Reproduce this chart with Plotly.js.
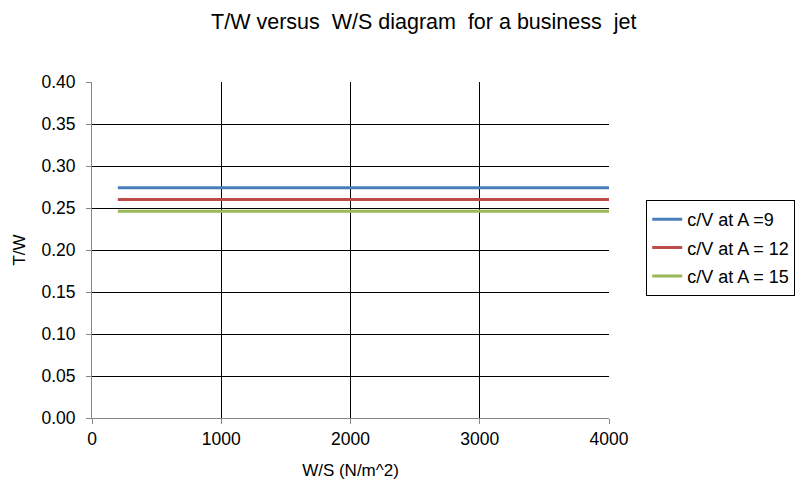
<!DOCTYPE html>
<html>
<head>
<meta charset="utf-8">
<script src="https://cdn.plot.ly/plotly-3.0.1.min.js"></script>
<style>
  html, body { margin: 0; padding: 0; background: #fff; }
  #chart { width: 798px; height: 483px; }
</style>
</head>
<body>
<div id="chart"></div>
<script>
// Wing loading range (N/m^2)
const wingLoading = [200, 4000];

// Thrust-to-weight required for cruise, per aspect ratio
const seriesNames = ["c/V at A =9", "c/V at A = 12", "c/V at A = 15"];
const twA9  = [0.274, 0.274];
const twA12 = [0.260, 0.260];
const twA15 = [0.246, 0.246];
const seriesColors = ["#4A7EBB", "#BE4B48", "#98B954"];

const yTickVals = [0, 0.05, 0.10, 0.15, 0.20, 0.25, 0.30, 0.35, 0.40];
const yTickText = ["0.00", "0.05", "0.10", "0.15", "0.20", "0.25", "0.30", "0.35", "0.40"];
const xTickVals = [0, 1000, 2000, 3000, 4000];

const ys = [twA9, twA12, twA15];
const traces = ys.map((y, i) => ({
  x: wingLoading,
  y: y,
  type: "scatter",
  mode: "lines",
  name: seriesNames[i],
  legendgroup: "g" + i,
  line: { color: seriesColors[i], width: 3 }
}));

const font = "Liberation Sans, Arial, sans-serif";

const layout = {
  width: 798,
  height: 483,
  paper_bgcolor: "#ffffff",
  plot_bgcolor: "#ffffff",
  margin: { l: 92, r: 189, t: 82, b: 65, autoexpand: false },
  font: { family: font, color: "#000000", size: 17 },
  title: {
    text: "T/W versus  W/S diagram  for a business  jet",
    font: { family: font, size: 21.5, color: "#000000" },
    x: 0.531, xanchor: "center",
    y: 0.955, yanchor: "middle"
  },
  xaxis: {
    range: [0, 4000],
    tickvals: xTickVals,
    ticks: "outside",
    ticklen: 5,
    tickcolor: "#868686",
    showgrid: true,
    gridcolor: "#000000",
    gridwidth: 1,
    zeroline: false,
    showline: true,
    linecolor: "#868686",
    linewidth: 1,
    tickfont: { family: font, size: 17.5, color: "#000000" },
    title: { text: "W/S (N/m^2)", font: { family: font, size: 17, color: "#000000" }, standoff: 16 },
    automargin: false,
    fixedrange: true
  },
  yaxis: {
    range: [0, 0.40],
    tickvals: yTickVals,
    ticktext: yTickText,
    ticks: "outside",
    ticklen: 5,
    tickcolor: "#868686",
    ticklabelstandoff: 7,
    showgrid: true,
    gridcolor: "#000000",
    gridwidth: 1,
    zeroline: false,
    showline: true,
    linecolor: "#868686",
    linewidth: 1,
    tickfont: { family: font, size: 17.5, color: "#000000" },
    title: { text: "T/W", font: { family: font, size: 17, color: "#000000" }, standoff: 11 },
    automargin: false,
    fixedrange: true
  },
  showlegend: true,
  legend: {
    x: 1.072, xanchor: "left",
    y: 0.506, yanchor: "middle",
    bordercolor: "#000000",
    borderwidth: 1,
    bgcolor: "#ffffff",
    traceorder: "grouped",
    tracegroupgap: 2,
    font: { family: font, size: 18, color: "#000000" }
  }
};

Plotly.newPlot("chart", traces, layout, { displayModeBar: false, staticPlot: true });
</script>
</body>
</html>
